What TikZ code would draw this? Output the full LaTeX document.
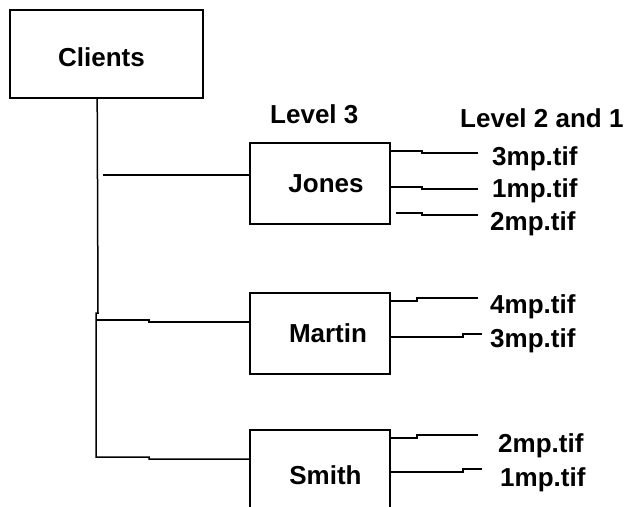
\documentclass[tikz,border=0pt]{standalone}
\usepackage{fontspec}
\setmainfont{Liberation Sans}
\usetikzlibrary{positioning,calc}

\begin{document}
\begin{tikzpicture}[
    x=1pt, y=-1pt,
    every node/.style={font=\fontsize{26}{29}\selectfont\bfseries, inner sep=0pt},
    folder/.style={
        draw,
        line width=1.6pt,
        minimum width=140pt,
        minimum height=81pt,
    },
    wire/.style={line width=1.5pt},
    tif/.style={anchor=base west},
    level/.style={anchor=base west},
]

\useasboundingbox (0,0) rectangle (629,506);
\clip (0,0) rectangle (629,506);

% Root
\node[folder,minimum width=193pt,minimum height=88pt,text height=24pt,text depth=0pt] (clients) at (106.5,54) {Clients\hspace*{10pt}};

% Level headings
\node[level] (lvlthree) at (270,123) {Level 3};
\node[level] (lvltwoone) at (460,127) {Level 2 and 1};

% Level 3 folders
\node[folder] (jones) at (320,183.5) {\hspace*{12pt}Jones};
\node[folder] (martin) at (320,333.5) {\hspace*{16pt}Martin};
\node[folder,minimum height=90pt] (smith) at (320,475) {\hspace*{11pt}Smith};

% Trunk and branches
\coordinate (trunktop) at ([xshift=88pt]clients.south west);
\draw[wire] (trunktop) -- (98,313) -- (96,313) -- (96,457) -- (149,457) -- (149,459) -- (smith.west |- 0,459);
\draw[wire] (96,320) -- (149,320) -- (149,322) -- (martin.west |- 0,322);
\draw[wire] (103,175) -- (jones.west |- 0,175);

% Jones files
\node[tif] (jthree) at (492,165) {3mp.tif};
\node[tif] (jone) at (492,197) {1mp.tif};
\node[tif] (jtwo) at (490,230) {2mp.tif};
\draw[wire] (jones.east |- 0,151) -- (422,151) -- (422,153) -- ([xshift=-14pt]jthree.west |- 0,153);
\draw[wire] (jones.east |- 0,187) -- (422,187) -- (422,189) -- ([xshift=-14pt]jone.west |- 0,189);
\draw[wire] ([xshift=5pt]jones.east |- 0,213) -- (422,213) -- (422,215) -- ([xshift=-12pt]jtwo.west |- 0,215);

% Martin files
\node[tif] (mfour) at (490,313) {4mp.tif};
\node[tif] (mthree) at (490,347) {3mp.tif};
\draw[wire] (martin.east |- 0,301) -- (417,301) -- (417,298) -- ([xshift=-12pt]mfour.west |- 0,298);
\draw[wire] (martin.east |- 0,337) -- (463,337) -- (463,334) -- ([xshift=-8pt]mthree.west |- 0,334);

% Smith files
\node[tif] (stwo) at (498,452) {2mp.tif};
\node[tif] (sone) at (500,486) {1mp.tif};
\draw[wire] (smith.east |- 0,438) -- (417,438) -- (417,435) -- ([xshift=-20pt]stwo.west |- 0,435);
\draw[wire] (smith.east |- 0,472) -- (463,472) -- (463,469) -- ([xshift=-18pt]sone.west |- 0,469);

\end{tikzpicture}
\end{document}
